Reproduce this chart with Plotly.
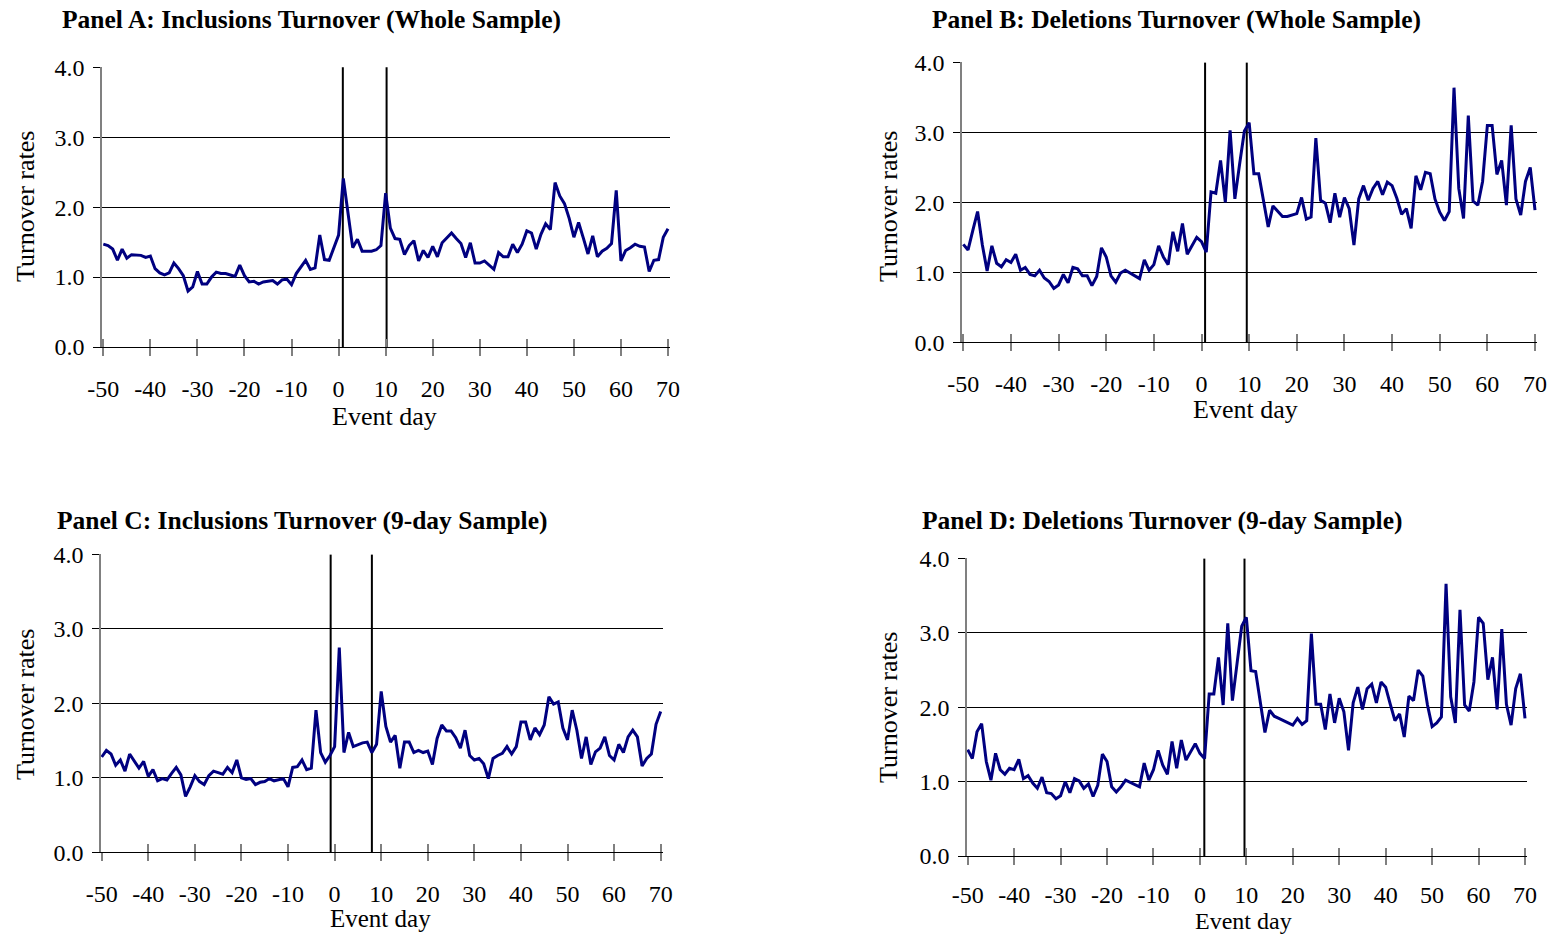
import plotly.graph_objects as go

W, H = 1552, 935
FONT = "Liberation Serif"

days = list(range(-50, 71))
xtick_vals = list(range(-50, 71, 10))
xtick_text = [str(v) for v in xtick_vals]
ytick_vals = [0, 1, 2, 3, 4]
ytick_text = ["0.0", "1.0", "2.0", "3.0", "4.0"]

incl_whole = [1.47, 1.45, 1.40, 1.24, 1.40, 1.27, 1.32, 1.32, 1.31, 1.28, 1.30, 1.12, 1.06, 1.03, 1.06, 1.20,
              1.12, 1.02, 0.80, 0.86, 1.08, 0.90, 0.90, 1.00, 1.07, 1.05, 1.05, 1.03, 1.01, 1.17, 1.02, 0.93,
              0.94, 0.90, 0.93, 0.94, 0.95, 0.90, 0.96, 0.97, 0.89, 1.05, 1.15, 1.24, 1.11, 1.13, 1.60, 1.25,
              1.24, 1.42, 1.60, 2.41, 1.90, 1.42, 1.54, 1.37, 1.37, 1.37, 1.39, 1.45, 2.20,
              1.70, 1.55, 1.54, 1.32, 1.45, 1.52, 1.23, 1.38, 1.28, 1.44, 1.29, 1.49, 1.56, 1.63, 1.55, 1.48,
              1.28, 1.49, 1.20, 1.20, 1.23, 1.17, 1.11, 1.35, 1.29, 1.29, 1.47, 1.35, 1.47, 1.66, 1.63, 1.40,
              1.61, 1.76, 1.68, 2.35, 2.16, 2.05, 1.84, 1.57, 1.78, 1.56, 1.33, 1.59, 1.29, 1.37, 1.41, 1.48,
              2.24, 1.23, 1.38, 1.42, 1.47, 1.44, 1.43, 1.08, 1.24, 1.25, 1.57, 1.69]

del_whole = [1.40, 1.32, 1.60, 1.87, 1.39, 1.02, 1.38, 1.13, 1.08, 1.18, 1.14, 1.26, 1.03, 1.07, 0.97, 0.95,
             1.03, 0.92, 0.87, 0.77, 0.82, 0.97, 0.85, 1.07, 1.05, 0.95, 0.95, 0.81, 0.94, 1.35, 1.22, 0.95,
             0.86, 0.99, 1.03, 0.99, 0.94, 0.91, 1.18, 1.03, 1.11, 1.38, 1.22, 1.11, 1.58, 1.30, 1.70, 1.26,
             1.38, 1.50, 1.44, 1.29, 2.15, 2.13, 2.60, 2.00, 3.03, 2.05, 2.55, 3.02, 3.14,
             2.41, 2.41, 2.03, 1.65, 1.95, 1.88, 1.80, 1.80, 1.82, 1.84, 2.07, 1.76, 1.79, 2.92, 2.03, 1.99,
             1.71, 2.13, 1.79, 2.07, 1.91, 1.39, 2.05, 2.24, 2.03, 2.20, 2.30, 2.11, 2.29, 2.24, 2.06, 1.83,
             1.91, 1.63, 2.38, 2.18, 2.43, 2.41, 2.05, 1.86, 1.74, 1.87, 3.64, 2.20, 1.77, 3.24, 2.02, 1.96,
             2.30, 3.10, 3.10, 2.40, 2.60, 1.96, 3.10, 2.05, 1.82, 2.30, 2.50, 1.89]

incl_9day = [1.28, 1.37, 1.32, 1.17, 1.24, 1.09, 1.32, 1.22, 1.13, 1.22, 1.02, 1.11, 0.96, 0.99, 0.97, 1.06,
             1.14, 1.04, 0.75, 0.88, 1.03, 0.95, 0.91, 1.03, 1.09, 1.07, 1.05, 1.14, 1.07, 1.24, 1.00, 0.98,
             0.99, 0.91, 0.94, 0.95, 0.99, 0.96, 0.97, 0.99, 0.88, 1.14, 1.15, 1.24, 1.11, 1.13, 1.91, 1.34,
             1.21, 1.30, 1.42, 2.75, 1.34, 1.61, 1.42, 1.45, 1.47, 1.48, 1.34, 1.45, 2.16,
             1.69, 1.48, 1.57, 1.13, 1.48, 1.48, 1.34, 1.37, 1.34, 1.36, 1.18, 1.53, 1.71, 1.63, 1.63, 1.54,
             1.40, 1.64, 1.30, 1.24, 1.26, 1.19, 0.99, 1.26, 1.30, 1.33, 1.42, 1.32, 1.42, 1.75, 1.75, 1.51,
             1.67, 1.58, 1.71, 2.09, 1.99, 2.02, 1.67, 1.51, 1.91, 1.64, 1.26, 1.55, 1.18, 1.35, 1.40, 1.55,
             1.30, 1.24, 1.45, 1.34, 1.55, 1.64, 1.55, 1.16, 1.26, 1.32, 1.72, 1.89]

del_9day = [1.43, 1.31, 1.67, 1.78, 1.27, 1.02, 1.38, 1.16, 1.10, 1.18, 1.16, 1.30, 1.04, 1.08, 0.98, 0.91,
            1.06, 0.85, 0.84, 0.77, 0.81, 1.00, 0.85, 1.04, 1.01, 0.91, 0.97, 0.80, 0.95, 1.37, 1.27, 0.93,
            0.86, 0.93, 1.02, 0.99, 0.95, 0.93, 1.25, 1.02, 1.16, 1.42, 1.22, 1.10, 1.54, 1.18, 1.56, 1.29,
            1.40, 1.51, 1.38, 1.31, 2.18, 2.18, 2.67, 2.03, 3.13, 2.09, 2.59, 3.09, 3.21,
            2.49, 2.48, 2.07, 1.66, 1.96, 1.88, 1.85, 1.82, 1.79, 1.76, 1.85, 1.77, 1.82, 2.99, 2.04, 2.04,
            1.70, 2.18, 1.79, 2.12, 1.94, 1.42, 2.06, 2.27, 1.97, 2.25, 2.31, 2.06, 2.34, 2.27, 2.04, 1.82,
            1.91, 1.60, 2.15, 2.09, 2.50, 2.42, 2.03, 1.74, 1.79, 1.87, 3.66, 2.14, 1.79, 3.31, 2.03, 1.95,
            2.34, 3.21, 3.13, 2.37, 2.67, 1.97, 3.05, 2.04, 1.76, 2.25, 2.45, 1.85]

events_A = [0.9, 10.2]
events_B = [0.75, 9.5]
events_C = [-0.85, 8.0]
events_D = [0.95, 9.6]

titles = ["Panel A: Inclusions Turnover (Whole Sample)",
          "Panel B: Deletions Turnover (Whole Sample)",
          "Panel C: Inclusions Turnover (9-day Sample)",
          "Panel D: Deletions Turnover (9-day Sample)"]
y_title = "Turnover rates"
x_title = "Event day"

series = [incl_whole, del_whole, incl_9day, del_9day]
events = [events_A, events_B, events_C, events_D]

# pixel geometry of each panel (layout only)
geo = [
    dict(left=102, right=670, top=67, bottom=347, dl=103.3, dr=668.0, tx=60, ty=20, yx=25, yy=207,
         xx=384, xy=416, xfs=26, so=12),
    dict(left=962, right=1537, top=62.3, bottom=342.3, dl=963.3, dr=1535.0, tx=930, ty=20, yx=888, yy=207,
         xx=1245, xy=409, xfs=26, so=12),
    dict(left=101, right=663, top=554.3, bottom=852.3, dl=101.7, dr=660.7, tx=55, ty=520, yx=25, yy=705,
         xx=380, xy=918, xfs=25, so=12),
    dict(left=967, right=1527, top=558.3, bottom=856, dl=967.7, dr=1525.0, tx=920, ty=520, yx=888, yy=708,
         xx=1243, xy=921, xfs=24, so=9),
]

fig = go.Figure()
layout = dict(
    width=W, height=H, margin=dict(l=0, r=0, t=0, b=0, autoexpand=False),
    paper_bgcolor="white", plot_bgcolor="white", showlegend=False,
    font=dict(family=FONT, size=24, color="black"),
)
annotations = []

for i, (vals, ev, g, ttl) in enumerate(zip(series, events, geo, titles), start=1):
    ppd = (g["dr"] - g["dl"]) / 120.0
    xmin = -50 - (g["dl"] - g["left"]) / ppd
    xmax = 70 + (g["right"] - g["dr"]) / ppd
    xd = [g["left"] / W, g["right"] / W]
    yd = [1 - g["bottom"] / H, 1 - g["top"] / H]
    xs = "x" if i == 1 else f"x{i}"
    ys = "y" if i == 1 else f"y{i}"
    xo = f"x{i + 4}"

    layout[f"xaxis{i}"] = dict(
        domain=xd, range=[xmin, xmax], anchor=ys, showgrid=False, zeroline=False, automargin=False,
        showline=True, linecolor="black", linewidth=1,
        tickmode="array", tickvals=xtick_vals, ticktext=xtick_text,
        ticks="outside", ticklen=8, tickcolor="#808080", tickwidth=1.5,
        ticklabelstandoff=g["so"], tickfont=dict(family=FONT, size=24, color="black"),
    )
    layout[f"xaxis{i + 4}"] = dict(
        domain=xd, range=[xmin, xmax], anchor=ys, overlaying=xs, showgrid=False, zeroline=False,
        automargin=False, showline=False, tickmode="array", tickvals=xtick_vals, showticklabels=False,
        ticks="inside", ticklen=8, tickcolor="#808080", tickwidth=1.5,
    )
    layout[f"yaxis{i}"] = dict(
        domain=yd, range=[0, 4.003], anchor=xs, showgrid=True, gridcolor="black", gridwidth=1,
        zeroline=False, showline=True, linecolor="#808080", linewidth=1.5, automargin=False,
        tickmode="array", tickvals=ytick_vals, ticktext=ytick_text,
        ticks="outside", ticklen=7, tickcolor="black",
        ticklabelstandoff=4, tickfont=dict(family=FONT, size=24, color="black"),
    )

    fig.add_trace(go.Scatter(x=[None], y=[None], xaxis=xo, yaxis=ys, hoverinfo="skip", showlegend=False))

    ex, ey = [], []
    for e in ev:
        ex += [e, e, None]
        ey += [0, 4, None]
    fig.add_trace(go.Scatter(x=ex, y=ey, mode="lines", line=dict(color="black", width=2),
                             xaxis=xs, yaxis=ys, hoverinfo="skip", cliponaxis=False))
    fig.add_trace(go.Scatter(x=days, y=vals, mode="lines", line=dict(color="#000080", width=3),
                             xaxis=xs, yaxis=ys, name=ttl))

    annotations.append(dict(text=f"<b>{ttl}</b>", xref="paper", yref="paper", x=g["tx"] / W, y=1 - g["ty"] / H,
                            xanchor="left", yanchor="middle", showarrow=False,
                            font=dict(family=FONT, size=25.5, color="black")))
    annotations.append(dict(text=y_title, xref="paper", yref="paper", x=g["yx"] / W, y=1 - g["yy"] / H,
                            xanchor="center", yanchor="middle", textangle=-90, showarrow=False,
                            font=dict(family=FONT, size=26, color="black")))
    annotations.append(dict(text=x_title, xref="paper", yref="paper", x=g["xx"] / W, y=1 - g["xy"] / H,
                            xanchor="center", yanchor="middle", showarrow=False,
                            font=dict(family=FONT, size=g["xfs"], color="black")))

layout["annotations"] = annotations
fig.update_layout(**layout)
fig.write_html("out.html", config={"displayModeBar": False},
               post_script="document.body.style.margin='0';document.body.style.overflow='hidden';")
